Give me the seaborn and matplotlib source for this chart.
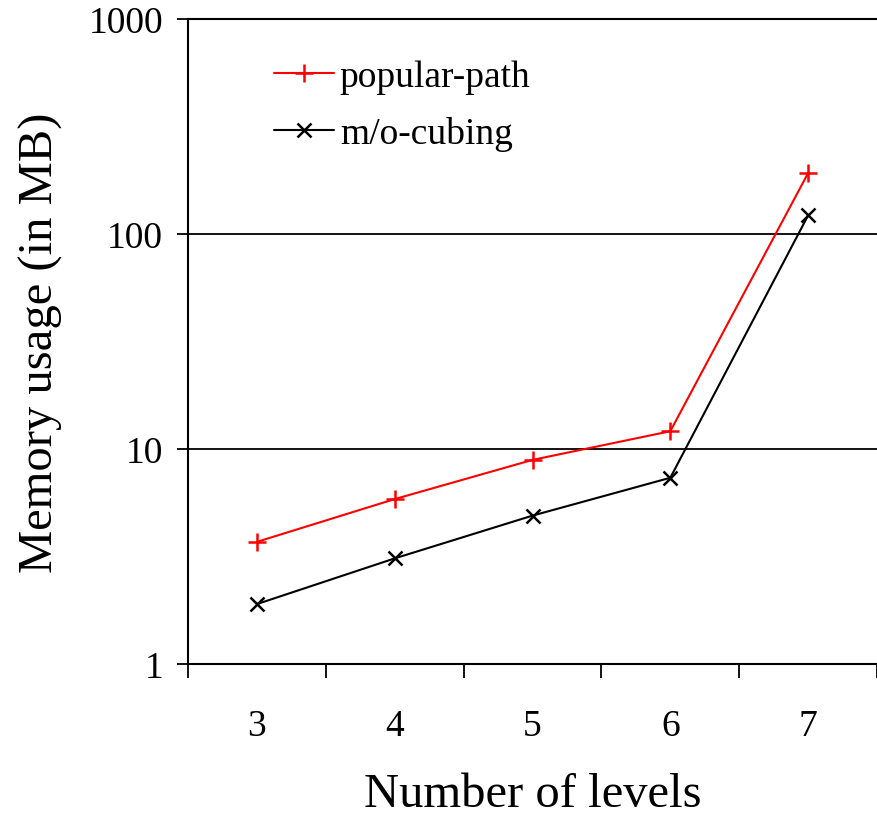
import matplotlib
matplotlib.use("Agg")
import matplotlib.pyplot as plt
import seaborn as sns
import pandas as pd
import numpy as np
from matplotlib.ticker import FixedLocator

levels = ["3", "4", "5", "6", "7"]
popular_path = [3.7, 5.85, 8.9, 12.1, 192]
mo_cubing = [1.9, 3.1, 4.9, 7.35, 122]

sns.set_style("white")
plt.rcParams["font.family"] = ["Liberation Serif", "DejaVu Serif"]
plt.rcParams["text.color"] = "black"
plt.rcParams["axes.labelcolor"] = "black"
plt.rcParams["xtick.color"] = "black"
plt.rcParams["ytick.color"] = "black"

fig = plt.figure(figsize=(8.77, 8.2), dpi=100)
ax = fig.add_axes([0.2144, 0.189, 0.7856, 0.7866])

df_pp = pd.DataFrame({"level": levels, "memory": popular_path})
df_mo = pd.DataFrame({"level": levels, "memory": mo_cubing})

sns.lineplot(data=df_pp, x="level", y="memory", color="#ff0000", marker="+",
             markersize=13, markeredgewidth=1.8, markeredgecolor="#ff0000",
             linewidth=1.5, label="popular-path", ax=ax)
sns.lineplot(data=df_mo, x="level", y="memory", color="#000000", marker="x",
             markersize=10, markeredgewidth=1.8, markeredgecolor="#000000",
             linewidth=1.5, label="m/o-cubing", ax=ax)

ax.set_yscale("log")
ax.set_ylim(1, 1000)
ax.set_xlim(-0.5, 4.5)
ax.set_yticks([1, 10, 100, 1000])
ax.set_yticklabels(["1", "10", "100", "1000"])
ax.yaxis.set_minor_locator(FixedLocator([]))
ax.xaxis.set_minor_locator(FixedLocator(np.arange(-0.5, 4.6, 1.0)))
ax.tick_params(axis="x", which="major", length=0, pad=32, labelsize=27)
ax.tick_params(axis="x", which="minor", length=10, width=1.3, direction="out", color="black", bottom=True)
ax.tick_params(axis="y", which="major", length=8, width=1.3, direction="out", color="black", labelsize=27, left=True, pad=10)

for v in [10, 100]:
    ax.axhline(v, color="black", linewidth=1.3, zorder=0)

for s in ["left", "bottom", "top"]:
    ax.spines[s].set_visible(True)
    ax.spines[s].set_color("black")
    ax.spines[s].set_linewidth(1.5)
ax.spines["right"].set_visible(False)

ax.set_xlabel("Number of levels", fontsize=35, labelpad=21)
ax.set_ylabel("Memory usage (in MB)", fontsize=35, labelpad=18)

leg = ax.legend(loc="upper left", bbox_to_anchor=(0.076, 0.99), frameon=False,
                fontsize=27, handlelength=1.6, handletextpad=0.15, labelspacing=0.6)

fig.savefig("out.png", dpi=100)
